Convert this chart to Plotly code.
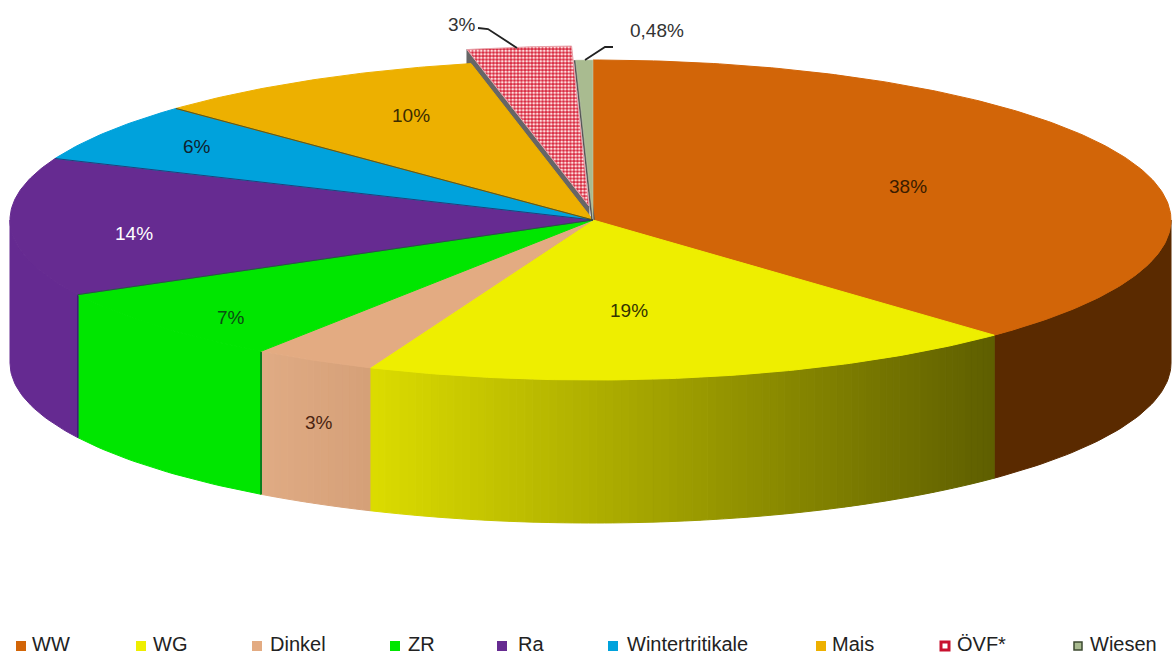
import math
import plotly.graph_objects as go

# --- data ---
categories = ["WW", "WG", "Dinkel", "ZR", "Ra", "Wintertritikale", "Mais", "ÖVF*", "Wiesen"]
values = [37.8, 18.5, 3.4, 7.6, 14.0, 6.0, 9.35, 2.9, 0.48]
value_labels = ["38%", "19%", "3%", "7%", "14%", "6%", "10%", "3%", "0,48%"]

# --- styles ---
top_colors = ["#d26508", "#eeee00", "#e3ab82", "#00e600", "#662b91", "#00a2dc", "#edb000", "#d7263d", "#a9bb90"]
side_from = ["#5a2a00", "#5e5e00", "#d5a078", "#00e600", "#652a91", "#00a2dc", "#edb000", "#d7263d", "#a9bb90"]
side_to = ["#5a2a00", "#dcdc00", "#e0ab84", "#00e600", "#652a91", "#00a2dc", "#edb000", "#d7263d", "#a9bb90"]
label_colors = ["#3a1c00", "#333300", "#4a2410", "#0b4d12", "#ffffff", "#10222e", "#3c2c00", "#333333", "#333333"]
legend_x = [16, 136, 252, 390, 497, 608, 816, 940, 1073]
legend_text_x = [30, 151, 268, 406, 516, 625, 830, 955, 1088]
label_xy = [(908, 186), (629, 310), (319, 422), (231, 317), (134, 233), (197, 146), (411, 115), (462, 24), (657, 30)]
explode = [(0, 0)] * 7 + [(-4, -14), (0, 0)]

CX, CY, RX, RY, DEPTH = 593, 220, 578, 160, 143
W, H = 1173, 655
total = sum(values)


def rim(t, off=(0, 0), dy=0):
    r = math.radians(t)
    s = math.sin(r)
    rx = RX + (5 * -s if s < 0 else 0)
    return CX + off[0] + rx * s, CY + off[1] - RY * math.cos(r) + dy


def mix(c1, c2, f):
    a = [int(c1[i:i + 2], 16) for i in (1, 3, 5)]
    b = [int(c2[i:i + 2], 16) for i in (1, 3, 5)]
    return "#%02x%02x%02x" % tuple(round(p + (q - p) * f) for p, q in zip(a, b))


def poly(pts, fill, line=None, width=1, pattern=None):
    xs = [p[0] for p in pts] + [pts[0][0]]
    ys = [p[1] for p in pts] + [pts[0][1]]
    tr = go.Scatter(x=xs, y=ys, mode="lines", fill="toself", fillcolor=fill,
                    line=dict(color=line or fill, width=width), hoverinfo="skip", showlegend=False)
    if pattern:
        tr.update(fillpattern=pattern)
    return tr


def seg(p, q, col, width):
    return go.Scatter(x=[p[0], q[0]], y=[p[1], q[1]], mode="lines",
                      line=dict(color=col, width=width), hoverinfo="skip", showlegend=False)


# slice angles
starts, ends, acc = [], [], 0.0
for v in values:
    starts.append(acc * 360 / total)
    acc += v
    ends.append(acc * 360 / total)

fig = go.Figure()

# side wall of the pulled-out slice (drawn first: main tops cover it)
ov = 7
apex = (CX + explode[ov][0], CY + explode[ov][1])
fig.add_trace(poly([apex, rim(starts[ov], explode[ov]),
                    rim(starts[ov], explode[ov], DEPTH), (apex[0], apex[1] + DEPTH)], "#666666"))

# outer walls, front half of the ellipse
for i in range(7):
    a, b = max(starts[i], 90), min(ends[i], 270)
    if b <= a:
        continue
    if side_from[i] == side_to[i]:
        n = max(2, int(b - a))
        tt = [a + (b - a) * k / n for k in range(n + 1)]
        pts = [rim(t) for t in tt] + [rim(t, dy=DEPTH) for t in reversed(tt)]
        fig.add_trace(poly(pts, side_from[i]))
    else:
        n = int((b - a) / 0.8) + 1
        x0, x1 = rim(a)[0], rim(b)[0]
        for k in range(n):
            t0 = a + (b - a) * k / n
            t1 = a + (b - a) * (k + 1) / n
            f = (rim((t0 + t1) / 2)[0] - x0) / (x1 - x0)
            col = mix(side_from[i], side_to[i], f)
            fig.add_trace(poly([rim(t0), rim(t1), rim(t1, dy=DEPTH), rim(t0, dy=DEPTH)], col))

# thin dark seams on the wall
fig.add_trace(seg(rim(starts[3]), rim(starts[3], dy=DEPTH), "#0a7f1e", 2))
fig.add_trace(seg(rim(ends[3]), rim(ends[3], dy=DEPTH), "#3c1f78", 1.5))

# tops
for i in range(9):
    a, b = starts[i], ends[i]
    n = max(2, int((b - a) * 1.5))
    off = explode[i]
    pts = [(CX + off[0], CY + off[1])] + [rim(a + (b - a) * k / n, off) for k in range(n + 1)]
    if i == 7:
        fig.add_trace(poly(pts, "#ffffff", line="#e7a0a8", width=1,
                           pattern=dict(shape=".", fgcolor="#ffdede", bgcolor=top_colors[i],
                                        size=3.5, solidity=0.5, fillmode="replace")))
    elif i == 8:
        fig.add_trace(seg((CX, CY), rim(a), "#555555", 3.5))
        fig.add_trace(poly(pts, top_colors[i], line="#c8d2b8", width=0.5))
    else:
        fig.add_trace(poly(pts, top_colors[i]))

# thin dark radial edges between the tops
for i, col in ((3, "#0b6b20"), (4, "#2f1650"), (5, "#0a4a70"), (6, "#6a5000")):
    fig.add_trace(seg((CX, CY), rim(ends[i] if i < 6 else starts[i]), col, 0.7))

# leader lines
fig.add_trace(go.Scatter(x=[478, 488, 517], y=[28, 29, 48], mode="lines",
                         line=dict(color="#222222", width=1.8), hoverinfo="skip", showlegend=False))
fig.add_trace(go.Scatter(x=[613, 605, 585], y=[47, 47, 60], mode="lines",
                         line=dict(color="#222222", width=1.8), hoverinfo="skip", showlegend=False))

# value labels
for txt, (x, y), col in zip(value_labels, label_xy, label_colors):
    fig.add_annotation(x=x, y=y, text=txt, showarrow=False, xanchor="center", yanchor="middle",
                       font=dict(family="Liberation Sans", size=19, color=col))

# legend row
LEG_Y = 646
LEG_TEXT_Y = 644
for i, name in enumerate(categories):
    if i == 7:
        mk = dict(symbol="square", size=8, color="#ffffff", line=dict(color="#c8102e", width=3))
    elif i == 8:
        mk = dict(symbol="square", size=8, color="#a9bb90", line=dict(color="#3c4a30", width=1.5))
    else:
        mk = dict(symbol="square", size=10, color=top_colors[i], line=dict(width=0))
    fig.add_trace(go.Scatter(x=[legend_x[i] + 5], y=[LEG_Y], mode="markers", marker=mk,
                             hoverinfo="skip", showlegend=False))
    fig.add_annotation(x=legend_text_x[i], y=LEG_TEXT_Y, text=name, showarrow=False, xanchor="left",
                       yanchor="middle", font=dict(family="Liberation Sans", size=20, color="#222222"))

fig.update_layout(
    width=W, height=H, margin=dict(l=0, r=0, t=0, b=0),
    paper_bgcolor="white", plot_bgcolor="white", showlegend=False,
    xaxis=dict(range=[0, W], visible=False, fixedrange=True),
    yaxis=dict(range=[H, 0], visible=False, fixedrange=True),
)
fig.write_html("out.html", config={"displayModeBar": False},
               post_script="document.body.style.margin='0';document.documentElement.style.overflow='hidden';")
